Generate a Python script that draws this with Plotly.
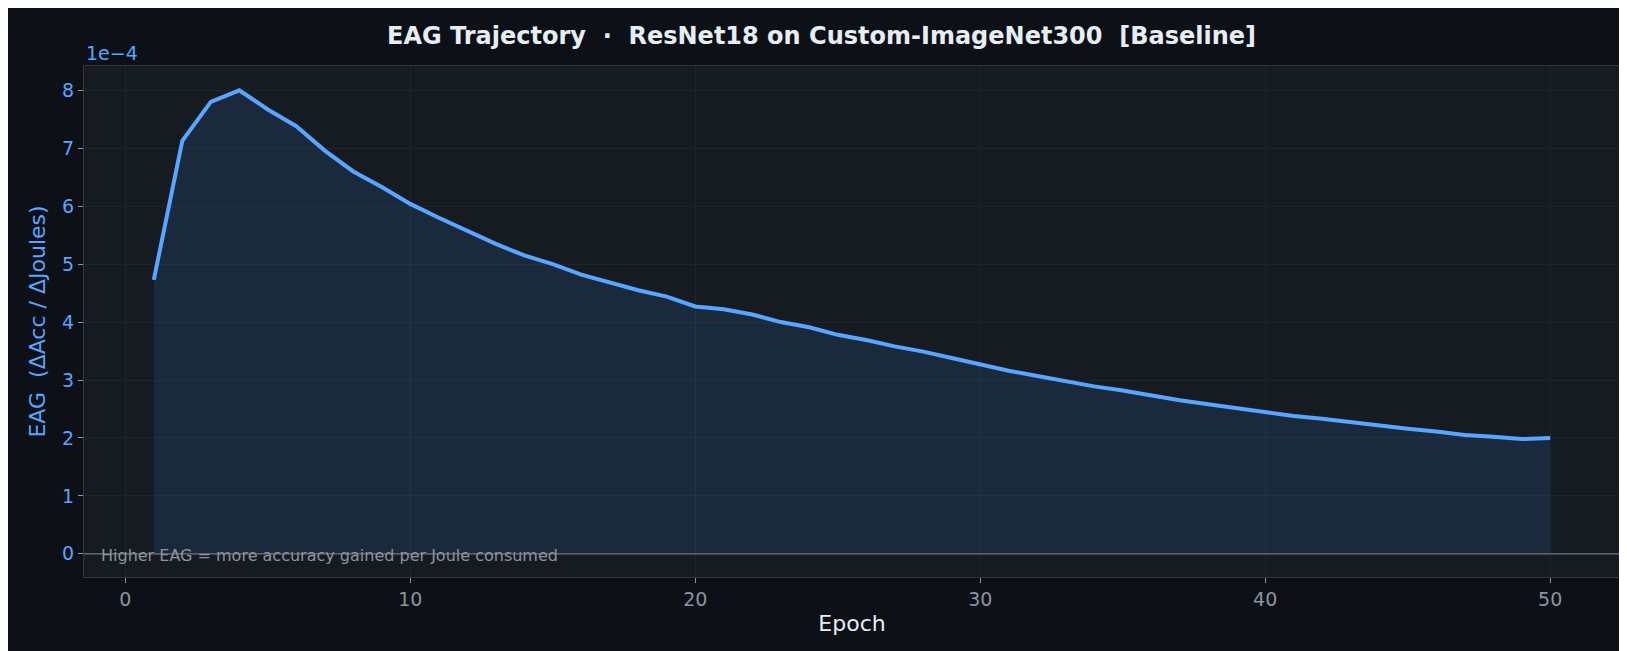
import plotly.graph_objects as go

epochs = list(range(1, 51))
eag = [4.73, 7.13, 7.80, 8.00, 7.67, 7.38, 6.96, 6.60, 6.33, 6.04,
       5.80, 5.58, 5.35, 5.15, 5.00, 4.82, 4.69, 4.55, 4.44, 4.27,
       4.22, 4.13, 4.00, 3.91, 3.78, 3.69, 3.58, 3.49, 3.38, 3.27,
       3.16, 3.07, 2.98, 2.89, 2.82, 2.73, 2.65, 2.58, 2.51, 2.45,
       2.38, 2.33, 2.27, 2.22, 2.16, 2.11, 2.05, 2.02, 1.98, 2.00]  # x 1e-4

xticks = [0, 10, 20, 30, 40, 50]
yticks = [0, 1, 2, 3, 4, 5, 6, 7, 8]

fig = go.Figure()
fig.add_trace(go.Scatter(x=epochs, y=eag, mode="lines", fill="tozeroy",
                         fillcolor="rgba(56,120,200,0.16)",
                         line=dict(color="#58a6ff", width=4), showlegend=False))
fig.add_hline(y=0, line=dict(color="#6e7681", width=1.3))

fig.update_layout(
    width=1627, height=651,
    paper_bgcolor="#0d1117", plot_bgcolor="#161b22",
    margin=dict(l=76, r=15, t=58, b=82),
    title=dict(text="<b>EAG Trajectory  ·  ResNet18 on Custom-ImageNet300  [Baseline]</b>",
               x=0.5, xanchor="center", y=0.97, font=dict(size=24, color="#e6edf3", family="DejaVu Sans")),
    font=dict(family="DejaVu Sans"),
    xaxis=dict(range=[-1.45, 52.45], tickvals=xticks, showgrid=True, gridcolor="#1e242c",
               zeroline=False, ticks="outside", ticklen=5, tickcolor="#8b949e",
               tickfont=dict(size=19, color="#8b949e"), showline=True, linecolor="#30363d", mirror=True,
               title=dict(text="Epoch", font=dict(size=22, color="#e6edf3"), standoff=6)),
    yaxis=dict(range=[-0.4, 8.42], tickvals=yticks, showgrid=True, gridcolor="#1e242c",
               zeroline=False, ticks="outside", ticklen=5, tickcolor="#58a6ff",
               tickfont=dict(size=19, color="#58a6ff"), showline=True, linecolor="#30363d", mirror=True,
               title=dict(text="EAG  (ΔAcc / ΔJoules)", font=dict(size=22, color="#58a6ff"), standoff=10)),
    annotations=[
        dict(text="1e−4", xref="paper", yref="paper", x=0.0, y=1.0, xanchor="left", yanchor="bottom",
             showarrow=False, font=dict(size=19, color="#58a6ff")),
        dict(text="Higher EAG = more accuracy gained per Joule consumed", xref="paper", yref="paper",
             x=0.01, y=0.02, xanchor="left", yanchor="bottom", showarrow=False,
             font=dict(size=16, color="#8b949e")),
    ],
)
fig.write_html("out.html")
